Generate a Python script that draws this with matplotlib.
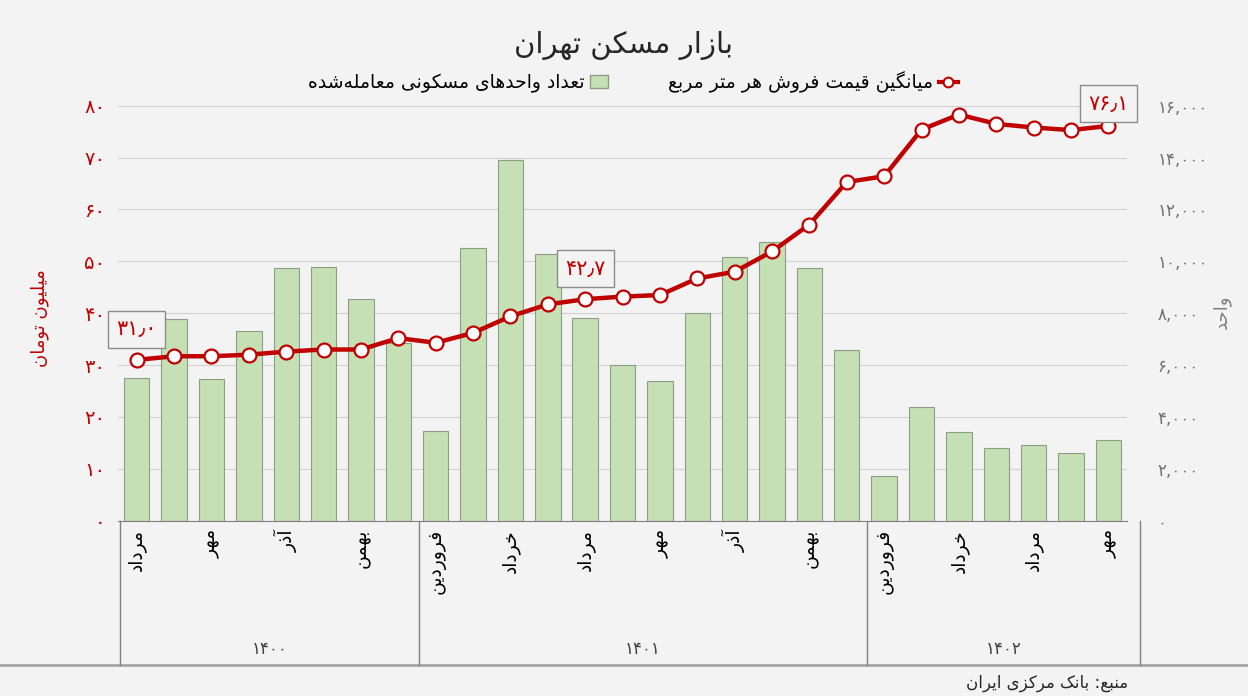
import matplotlib
matplotlib.use('Agg')
import matplotlib.pyplot as plt
from matplotlib.lines import Line2D
from matplotlib.patches import Patch

# monthly data, مرداد ۱۴۰۰ .. مهر ۱۴۰۲
price = [31.0, 31.7, 31.7, 32.0, 32.6, 33.0, 33.0, 35.2,
         34.3, 36.2, 39.4, 41.7, 42.7, 43.2, 43.5, 46.7, 48.0, 51.9, 57.1, 65.3,
         66.4, 75.4, 78.3, 76.5, 75.8, 75.3, 76.1]
deals = [5500, 7790, 5450, 7300, 9750, 9800, 8530, 6870,
         3440, 10500, 13890, 10290, 7830, 6010, 5400, 8020, 10170, 10730, 9740, 6590,
         1730, 4370, 3400, 2800, 2920, 2620, 3110]
month_labels = ['مرداد', 'مهر', 'آذر', 'بهمن', 'فروردین', 'خرداد', 'مرداد',
                'مهر', 'آذر', 'بهمن', 'فروردین', 'خرداد', 'مرداد', 'مهر']
years = ['1400', '1401', '1402']
year_months = [8, 12, 7]
highlight = [0, 12, 26]
left_ticks = [0, 10, 20, 30, 40, 50, 60, 70, 80]
right_ticks = [0, 2000, 4000, 6000, 8000, 10000, 12000, 14000, 16000]

# matplotlib has no arabic shaping, so pick presentation forms by hand
# (isolated, final, initial, medial)
FORMS = {
    'ا': '\uFE8D\uFE8E', 'آ': '\uFE81\uFE82', 'د': '\uFEA9\uFEAA',
    'ذ': '\uFEAB\uFEAC', 'ر': '\uFEAD\uFEAE', 'ز': '\uFEAF\uFEB0',
    'ژ': '\uFB8A\uFB8B', 'و': '\uFEED\uFEEE',
    'ب': '\uFE8F\uFE90\uFE91\uFE92', 'پ': '\uFB56\uFB57\uFB58\uFB59',
    'ت': '\uFE95\uFE96\uFE97\uFE98', 'ح': '\uFEA1\uFEA2\uFEA3\uFEA4',
    'خ': '\uFEA5\uFEA6\uFEA7\uFEA8', 'س': '\uFEB1\uFEB2\uFEB3\uFEB4',
    'ش': '\uFEB5\uFEB6\uFEB7\uFEB8', 'ع': '\uFEC9\uFECA\uFECB\uFECC',
    'ف': '\uFED1\uFED2\uFED3\uFED4', 'ق': '\uFED5\uFED6\uFED7\uFED8',
    'ک': '\uFB8E\uFB8F\uFB90\uFB91', 'گ': '\uFB92\uFB93\uFB94\uFB95',
    'ل': '\uFEDD\uFEDE\uFEDF\uFEE0', 'م': '\uFEE1\uFEE2\uFEE3\uFEE4',
    'ن': '\uFEE5\uFEE6\uFEE7\uFEE8', 'ه': '\uFEE9\uFEEA\uFEEB\uFEEC',
    'ی': '\uFBFC\uFBFD\uFBFE\uFBFF',
}


def fa(text):
    out = []
    for i, c in enumerate(text):
        if c not in FORMS:
            if c != '\u200c':
                out.append(c)
            continue
        prev = text[i - 1] if i > 0 else ''
        nxt = text[i + 1] if i + 1 < len(text) else ''
        p = prev in FORMS and len(FORMS[prev]) == 4
        q = nxt in FORMS and len(FORMS[c]) == 4
        f = FORMS[c]
        out.append(f[3] if p and q else f[1] if p else f[2] if q else f[0])
    return ''.join(reversed(out))


def fa_num(s):
    return s.translate(str.maketrans('0123456789.', '۰۱۲۳۴۵۶۷۸۹٫'))


red = '#c00000'
bg = '#f3f3f3'
plt.rcParams['font.family'] = 'DejaVu Sans'

fig = plt.figure(figsize=(12.48, 6.96), dpi=100, facecolor=bg)
ax = fig.add_axes([0.0946, 0.2519, 0.8085, 0.5962])
ax2 = ax.twinx()
ax.set_zorder(2)
ax2.set_zorder(1)
ax.patch.set_visible(False)
ax2.patch.set_visible(False)

x = list(range(len(price)))
ax2.bar(x, deals, width=0.68, color='#c5e0b4', edgecolor='#8e9e86', linewidth=0.8, zorder=2)
ax2.set_ylim(0, 16000)
ax2.set_yticks(right_ticks)
ax2.set_yticklabels([fa_num(f'{t:,}') for t in right_ticks], color='#707070', fontsize=12)
ax2.yaxis.grid(True, color='#d0d0d0', linewidth=0.8)
ax2.set_axisbelow(True)

ax.plot(x, price, color=red, lw=3.2, marker='o', ms=10, mfc='white', mec=red, mew=1.6, zorder=3)
ax.set_ylim(0, 80)
ax.set_xlim(-0.5, 26.5)
ax.set_yticks(left_ticks)
ax.set_yticklabels([fa_num(str(t)) for t in left_ticks], color=red, fontsize=14)
ax.set_xticks(range(0, 27, 2))
ax.set_xticklabels([fa(m) for m in month_labels], rotation=90, fontsize=13.5, va='top')
ax.tick_params(axis='both', length=0)
ax.tick_params(axis='x', pad=6)
ax.tick_params(axis='y', pad=9)
ax2.tick_params(axis='y', length=0, pad=22)

for a in (ax, ax2):
    for s in a.spines.values():
        s.set_visible(False)
ax.spines['bottom'].set_visible(True)
ax.spines['bottom'].set_color('#808080')

# annotations on first / mid / last point
for i, dy in zip(highlight, [22, 22, 16]):
    ax.annotate(fa_num(f'{price[i]:.1f}'), (i, price[i]), xytext=(0, dy),
                textcoords='offset points', ha='center', va='center',
                color=red, fontsize=15,
                bbox=dict(boxstyle='square,pad=0.4', fc=bg, ec='#8c8c8c', lw=1))

# year group boxes under the month labels
tr = ax.get_xaxis_transform()
edges = [-0.45]
for n in year_months:
    edges.append(edges[-1] + n)
edges[-1] = 26.85
for e in edges:
    ax.plot([e, e], [0, -0.348], transform=tr, color='#808080', lw=1, clip_on=False)
for yr, e0, e1 in zip(years, edges[:-1], edges[1:]):
    ax.text((e0 + e1) / 2, -0.31, fa_num(yr), transform=tr, ha='center', va='center',
            fontsize=12, color='#404040')

fig.add_artist(Line2D([0, 1], [0.045, 0.045], transform=fig.transFigure, color='#a6a6a6', lw=2))

fig.text(0.5, 0.935, fa('بازار مسکن تهران'), ha='center', va='center', fontsize=21, color='#262626')
fig.text(0.032, 0.543, fa('میلیون تومان'), rotation=90, ha='center', va='center', fontsize=13, color=red)
fig.text(0.979, 0.552, fa('واحد'), rotation=90, ha='center', va='center', fontsize=13, color='#808080')
fig.text(0.904, 0.018, fa('منبع: بانک مرکزی ایران'), ha='right', va='center', fontsize=12, color='#262626')

handles = [Patch(facecolor='#c5e0b4', edgecolor='#8e9e86'),
           Line2D([], [], color=red, lw=3, marker='o', ms=7, mfc='white', mec=red, mew=1.5)]
labels = [fa('تعداد واحدهای مسکونی معامله\u200cشده'), fa('میانگین قیمت فروش هر متر مربع')]
fig.legend(handles, labels, loc='center', bbox_to_anchor=(0.507, 0.882), ncol=2, frameon=False,
           markerfirst=False, fontsize=13.5, handlelength=1.0, handletextpad=0.3, columnspacing=3.2)

fig.savefig('out.png', dpi=100, facecolor=bg)
